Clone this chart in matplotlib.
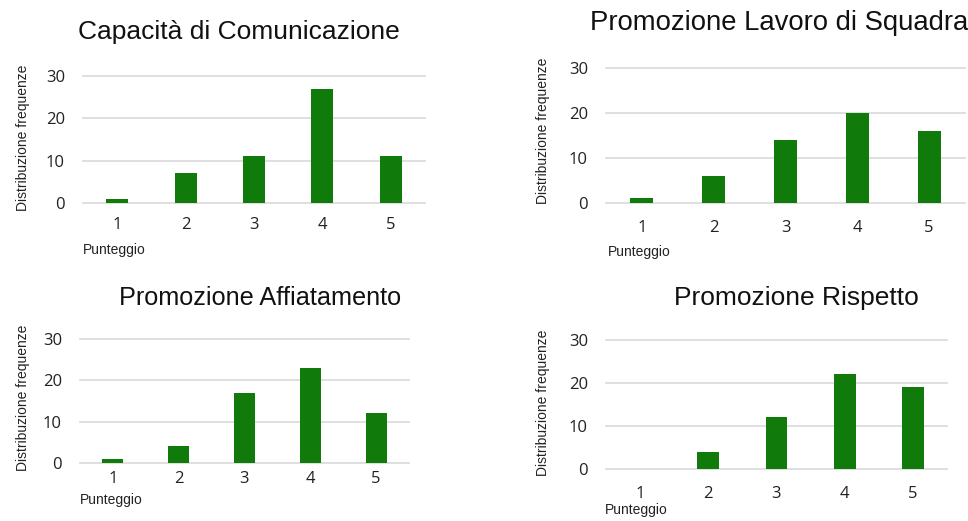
import numpy as np
import matplotlib.pyplot as plt

# Data
scores = [1, 2, 3, 4, 5]
comunicazione = [1, 7, 11, 27, 11]
lavoro_squadra = [1, 6, 14, 20, 16]
affiatamento = [1, 4, 17, 23, 12]
rispetto = [0, 4, 12, 22, 19]
titles = ["Capacità di Comunicazione", "Promozione Lavoro di Squadra",
          "Promozione Affiatamento", "Promozione Rispetto"]
y_ticks = [0, 10, 20, 30]

W, H = 968, 521
fig = plt.figure(figsize=(W / 100, H / 100), dpi=100)

# panel layout in pixels: left, right, bottom, top, title (x, y, size), ylabel (x, y), xlabel (x, y), xtick pad
panels = [
    (comunicazione, 83, 425, 203, 76, (239, 32, 19), (23, 138), (83, 250), 10),
    (lavoro_squadra, 606, 965, 203, 68, (779, 23, 19.8), (543, 131), (608, 252), 12),
    (affiatamento, 80, 409, 463, 339, (260, 298, 18.2), (23, 398), (80, 500), 6),
    (rispetto, 606, 947, 469, 340, (796, 298, 19), (543, 403), (605, 510), 12),
]

green = "#107a0a"
grid = "#d9d9d9"

for (vals, l, r, b, t, tpos, ypos, xpos, xpad), title in zip(panels, titles):
    ax = fig.add_axes([l / W, 1 - b / H, (r - l) / W, (b - t) / H])
    ax.bar(scores, vals, width=0.32, color=green, zorder=3)
    for yv in y_ticks:
        ax.axhline(yv, color=grid, lw=1.2, zorder=1, clip_on=False)
    ax.set_xlim(0.5, 5.5)
    ax.set_ylim(0, 30)
    ax.set_xticks(scores)
    ax.set_yticks(y_ticks)
    for s in ax.spines.values():
        s.set_visible(False)
    ax.tick_params(axis="x", length=0, pad=xpad, labelsize=12, labelcolor="#222222")
    ax.tick_params(axis="y", length=0, pad=13, labelsize=12, labelcolor="#222222")
    for lab in ax.get_xticklabels() + ax.get_yticklabels():
        lab.set_family("Open Sans")

    fig.text(tpos[0] / W, 1 - tpos[1] / H, title, ha="center", va="center",
             fontsize=tpos[2], family="Liberation Sans", color="#111111")
    fig.text(ypos[0] / W, 1 - ypos[1] / H, "Distribuzione frequenze", rotation=90,
             ha="center", va="center", fontsize=10, family="Liberation Sans", color="#222222")
    fig.text(xpos[0] / W, 1 - xpos[1] / H, "Punteggio", ha="left", va="center",
             fontsize=10, family="Liberation Sans", color="#222222")

plt.savefig("out.png", dpi=100)
